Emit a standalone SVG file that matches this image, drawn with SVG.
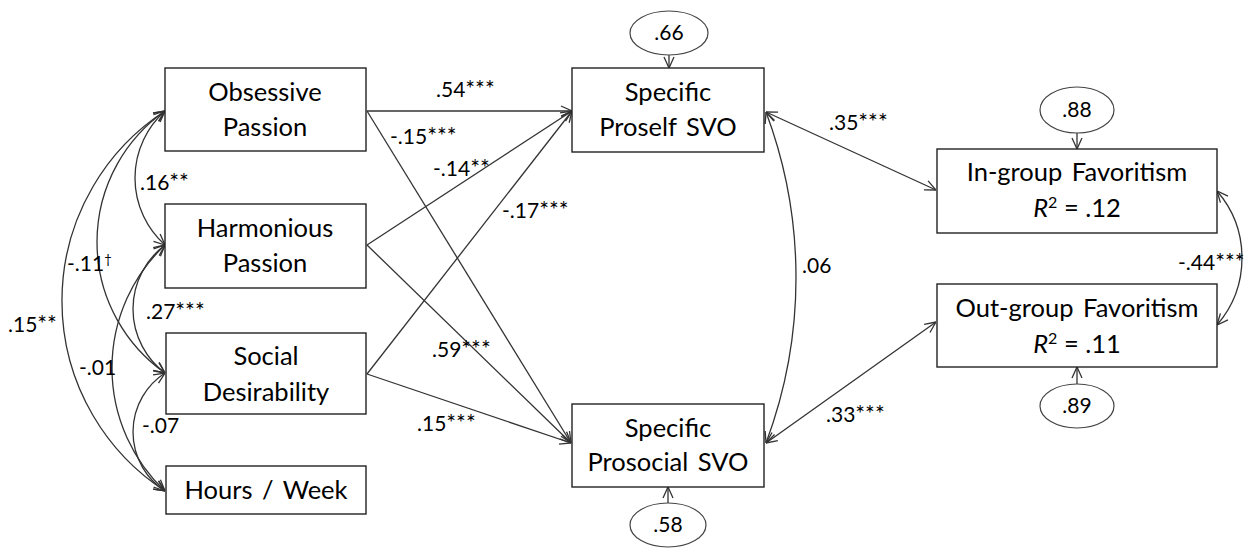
<svg xmlns="http://www.w3.org/2000/svg" width="1246" height="549" viewBox="0 0 1246 549">
  <style>
    .box { fill: #ffffff; stroke: #222222; stroke-width: 1.4; }
    .err { fill: #ffffff; stroke: #444444; stroke-width: 1.2; }
    .lbl { font-family: Lato, "Liberation Sans", sans-serif; font-size: 25.5px; fill: #000000; text-anchor: middle; word-spacing: 3px; }
    .eq { word-spacing: 0; }
    .coef { font-family: Lato, "Liberation Sans", sans-serif; font-size: 21px; fill: #000000; }
    .star { font-size: 23px; }
    .sup { font-size: 13px; }
    .path { fill: none; stroke: #333333; stroke-width: 1.3; marker-end: url(#head); }
    .both { marker-start: url(#head); }
  </style>
  <defs>
    <marker id="head" viewBox="0 0 12 12" refX="12" refY="6" markerWidth="12" markerHeight="12" markerUnits="userSpaceOnUse" orient="auto-start-reverse">
      <path d="M1,1 L12,6 L1,11" fill="none" stroke="#333333" stroke-width="1.3"/>
    </marker>
  </defs>

  <!-- connectors -->
  <g id="connectors">
    <!-- correlations among predictors -->
    <path class="path both" d="M165,111 A89.8,89.8 0 0 0 165,245"/>
    <path class="path both" d="M165,111 A160.2,160.2 0 0 0 165,373"/>
    <path class="path both" d="M165,111 A226.7,226.7 0 0 0 165,491"/>
    <path class="path both" d="M165,245 A80,80 0 0 0 165,373"/>
    <path class="path both" d="M165,245 A169.2,169.2 0 0 0 165,491"/>
    <path class="path both" d="M165,373 A70.4,70.4 0 0 0 165,491"/>
    <!-- paths to SVO -->
    <path class="path" d="M367,111 L572,111"/>
    <path class="path" d="M367,111 L571,443"/>
    <path class="path" d="M367,245 L572,111"/>
    <path class="path" d="M367,245 L571,443"/>
    <path class="path" d="M367,374 L572,111"/>
    <path class="path" d="M367,374 L571,443"/>
    <!-- SVO to favoritism -->
    <path class="path both" d="M766,112 A471.5,471.5 0 0 1 766,443"/>
    <path class="path both" d="M766,112 L936,190"/>
    <path class="path both" d="M766,443 L936,322"/>
    <path class="path both" d="M1217,191 A102.3,102.3 0 0 1 1217,325"/>
    <!-- residual arrows -->
    <path class="path" d="M669,55 L669,68"/>
    <path class="path" d="M668,503 L668,487"/>
    <path class="path" d="M1077,133 L1077,149"/>
    <path class="path" d="M1077,384 L1077,367"/>
  </g>

  <!-- coefficients -->
  <g id="coefficients">
    <text class="coef" x="140" y="190">.16<tspan class="star">**</tspan></text>
    <text class="coef" x="67" y="271">-.11<tspan class="sup" dy="-7">†</tspan></text>
    <text class="coef" x="146" y="319">.27<tspan class="star">***</tspan></text>
    <text class="coef" x="8" y="332">.15<tspan class="star">**</tspan></text>
    <text class="coef" x="79" y="375">-.01</text>
    <text class="coef" x="142" y="433">-.07</text>
    <text class="coef" x="436" y="97">.54<tspan class="star">***</tspan></text>
    <text class="coef" x="390" y="144">-.15<tspan class="star">***</tspan></text>
    <text class="coef" x="433" y="176">-.14<tspan class="star">**</tspan></text>
    <text class="coef" x="502" y="218">-.17<tspan class="star">***</tspan></text>
    <text class="coef" x="432" y="357">.59<tspan class="star">***</tspan></text>
    <text class="coef" x="417" y="431">.15<tspan class="star">***</tspan></text>
    <text class="coef" x="802" y="273">.06</text>
    <text class="coef" x="829" y="130">.35<tspan class="star">***</tspan></text>
    <text class="coef" x="826" y="422">.33<tspan class="star">***</tspan></text>
    <text class="coef" x="1178" y="270">-.44<tspan class="star">***</tspan></text>
  </g>

  <!-- predictors -->
  <g id="obsessive">
    <rect class="box" x="165" y="68" width="201" height="83"/>
    <text class="lbl" x="265" y="101">Obsessive</text>
    <text class="lbl" x="265" y="136">Passion</text>
  </g>
  <g id="harmonious">
    <rect class="box" x="165" y="204" width="201" height="84"/>
    <text class="lbl" x="265" y="237">Harmonious</text>
    <text class="lbl" x="265" y="272">Passion</text>
  </g>
  <g id="social">
    <rect class="box" x="166" y="333" width="200" height="81"/>
    <text class="lbl" x="266" y="365">Social</text>
    <text class="lbl" x="266" y="401">Desirability</text>
  </g>
  <g id="hours">
    <rect class="box" x="166" y="466" width="200" height="48"/>
    <text class="lbl" x="266" y="499">Hours / Week</text>
  </g>

  <!-- mediators -->
  <g id="proself">
    <rect class="box" x="572" y="68" width="192" height="84"/>
    <text class="lbl" x="668" y="101">Specific</text>
    <text class="lbl" x="668" y="136">Proself SVO</text>
  </g>
  <g id="prosocial">
    <rect class="box" x="572" y="404" width="192" height="83"/>
    <text class="lbl" x="668" y="437">Specific</text>
    <text class="lbl" x="668" y="471">Prosocial SVO</text>
  </g>

  <!-- outcomes -->
  <g id="ingroup">
    <rect class="box" x="937" y="149" width="280" height="84"/>
    <text class="lbl" x="1077" y="181">In-group Favoritism</text>
    <text class="lbl eq" x="1077" y="217"><tspan font-style="italic">R</tspan><tspan font-size="16" dy="-9">2</tspan><tspan dy="9"> = .12</tspan></text>
  </g>
  <g id="outgroup">
    <rect class="box" x="937" y="284" width="280" height="83"/>
    <text class="lbl" x="1077" y="317">Out-group Favoritism</text>
    <text class="lbl eq" x="1077" y="353"><tspan font-style="italic">R</tspan><tspan font-size="16" dy="-9">2</tspan><tspan dy="9"> = .11</tspan></text>
  </g>

  <!-- residual terms -->
  <g id="e-proself">
    <ellipse class="err" cx="669" cy="33" rx="39" ry="22"/>
    <text class="coef" x="669" y="40" text-anchor="middle">.66</text>
  </g>
  <g id="e-prosocial">
    <ellipse class="err" cx="668" cy="525" rx="38" ry="22"/>
    <text class="coef" x="668" y="532" text-anchor="middle">.58</text>
  </g>
  <g id="e-ingroup">
    <ellipse class="err" cx="1077" cy="110" rx="37" ry="23"/>
    <text class="coef" x="1077" y="117" text-anchor="middle">.88</text>
  </g>
  <g id="e-outgroup">
    <ellipse class="err" cx="1077" cy="406" rx="37" ry="22"/>
    <text class="coef" x="1077" y="413" text-anchor="middle">.89</text>
  </g>
</svg>
